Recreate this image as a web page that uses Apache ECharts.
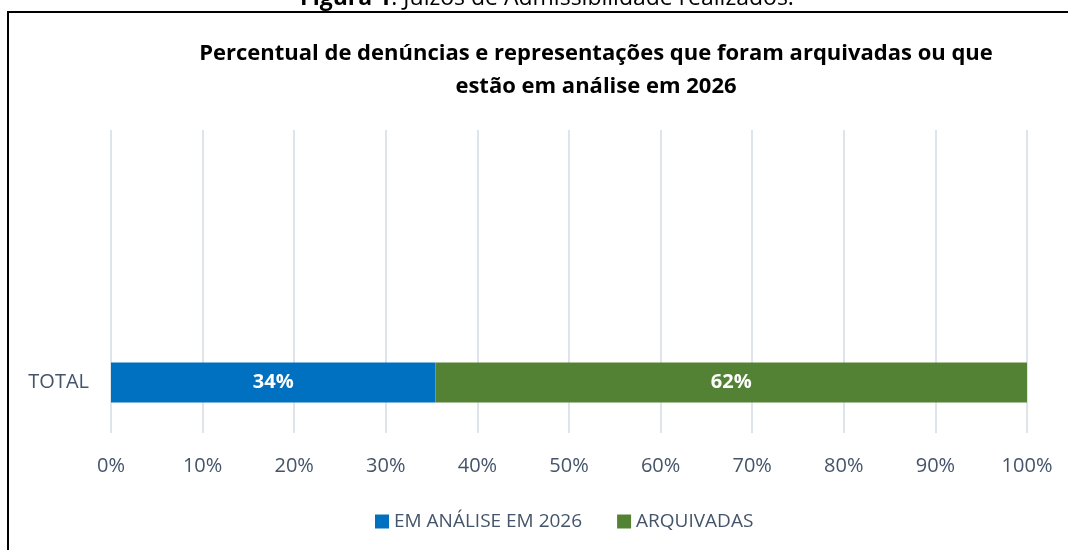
<!DOCTYPE html>
<html>
<head>
<meta charset="utf-8">
<script src="https://cdn.jsdelivr.net/npm/echarts@6/dist/echarts.min.js"></script>
<style>
    html, body { margin: 0; padding: 0; background: #fff; }
    #main { width: 1068px; height: 550px; }
</style>
</head>
<body>
<div id="main"></div>
<script type="text/javascript">
    // dados do gráfico
    var categorias = ['TOTAL', '', ''];
    var emAnalise = [34, null, null];
    var arquivadas = [62, null, null];
    var ticksX = ['0%', '10%', '20%', '30%', '40%', '50%', '60%', '70%', '80%', '90%', '100%'];

    var fonte = '"Open Sans", "Noto Sans", sans-serif';
    var corTexto = '#44546a';

    // barras 100% empilhadas: cada valor vira a fração do total da categoria
    function fracao(a, b, i) {
        if (a[i] == null) return null;
        return a[i] / (a[i] + b[i]) * 100;
    }
    var dadosAnalise = [], dadosArquivadas = [];
    for (var i = 0; i < categorias.length; i++) {
        dadosAnalise.push(fracao(emAnalise, arquivadas, i));
        dadosArquivadas.push(fracao(arquivadas, emAnalise, i));
    }

    var myChart = echarts.init(document.getElementById('main'));

    var rotulo = function (bruto) {
        return {
            show: true,
            position: 'inside',
            color: '#fff',
            fontWeight: 'bold',
            fontSize: 20,
            fontFamily: fonte,
            formatter: function (p) { return bruto[p.dataIndex] + '%'; }
        };
    };

    var option = {
        animation: false,
        graphic: [
            {
                type: 'rect',
                shape: { x: 8, y: 12, width: 1100, height: 600 },
                style: { fill: 'none', stroke: '#000', lineWidth: 2 }
            },
            {
                type: 'text',
                x: 547,
                y: -13,
                style: {
                    text: '{b|Figura 1}: Juízos de Admissibilidade realizados.',
                    font: '23px ' + fonte,
                    fill: '#000',
                    align: 'center',
                    rich: { b: { fontWeight: 'bold', fontSize: 23, fontFamily: fonte, fill: '#000' } }
                }
            }
        ],
        title: {
            text: 'Percentual de denúncias e representações que foram arquivadas ou que\nestão em análise em 2026',
            left: 591,
            textAlign: 'center',
            top: 32,
            textStyle: {
                fontFamily: fonte,
                fontWeight: 'bold',
                fontSize: 22,
                lineHeight: 33,
                color: '#000'
            }
        },
        legend: {
            bottom: 14,
            left: 370,
            itemWidth: 14,
            itemHeight: 14,
            itemGap: 35,
            icon: 'rect',
            textStyle: { fontFamily: fonte, fontSize: 19, color: corTexto },
            data: ['EM ANÁLISE EM 2026', 'ARQUIVADAS']
        },
        grid: {
            left: 111,
            right: 41,
            top: 130,
            bottom: 117
        },
        xAxis: {
            type: 'value',
            min: 0,
            max: 100,
            interval: 10,
            axisLine: { show: false },
            axisTick: { show: false },
            splitLine: { lineStyle: { color: '#dfe3ea', width: 2 } },
            axisLabel: {
                margin: 23,
                fontFamily: fonte,
                fontSize: 20,
                color: corTexto,
                formatter: function (v) { return ticksX[Math.round(v / 10)]; }
            }
        },
        yAxis: {
            type: 'category',
            data: categorias,
            axisLine: { show: false },
            axisTick: { show: false },
            axisLabel: {
                margin: 22,
                fontFamily: fonte,
                fontSize: 20,
                color: corTexto
            }
        },
        series: [
            {
                name: 'EM ANÁLISE EM 2026',
                type: 'bar',
                stack: 'total',
                barWidth: 40,
                itemStyle: { color: '#0070c0' },
                label: rotulo(emAnalise),
                data: dadosAnalise
            },
            {
                name: 'ARQUIVADAS',
                type: 'bar',
                stack: 'total',
                barWidth: 40,
                itemStyle: { color: '#548235' },
                label: rotulo(arquivadas),
                data: dadosArquivadas
            }
        ]
    };

    myChart.setOption(option);
</script>
</body>
</html>
